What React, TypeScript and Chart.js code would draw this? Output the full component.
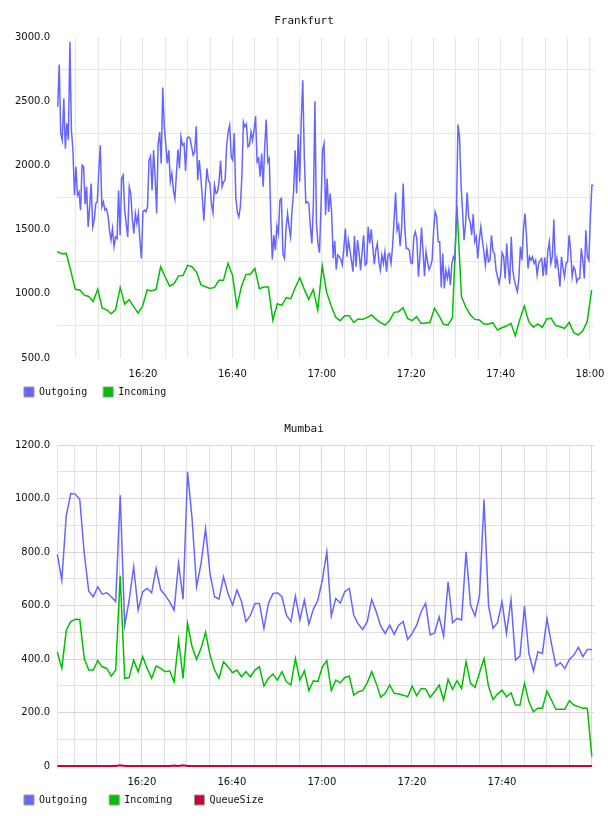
import React, { useEffect, useRef } from 'react';
import { Chart, registerables } from 'chart.js';

Chart.register(...registerables);

const MONO = "'DejaVu Sans Mono', monospace";
const SANS = "'DejaVu Sans', sans-serif";

const COLOR_OUT = '#6666ff';
const COLOR_IN = '#00c000';
const COLOR_QUEUE = '#cc0033';

// ---------------- Frankfurt ----------------
// sample times are minutes since midnight
const FRA_X_MIN = 960.76;
const FRA_X_MAX = 1080.9;
const FRA_TIME_LABELS = ['16:20', '16:40', '17:00', '17:20', '17:40', '18:00'];
const FRA_Y_LABELS = ['500.0', '1000.0', '1500.0', '2000.0', '2500.0', '3000.0'];

const FRA_OUT_START = 960.92;
const FRA_OUT_STEP = 0.3405;
const FRA_OUTGOING = [
  2457, 2787, 2249, 2197, 2522, 2132, 2330, 2197, 2963, 2275,
  2119, 1769, 1990, 1769, 1795, 1652, 2003, 1990, 1699, 1834,
  1522, 1678, 1860, 1522, 1574, 1704, 1717, 1964, 2158, 1678,
  1717, 1652, 1665, 1613, 1496, 1418, 1509, 1367, 1444, 1431,
  1808, 1457, 1899, 1925, 1652, 1548, 1444, 1834, 1782, 1587,
  1470, 1626, 1548, 1626, 1418, 1276, 1639, 1652, 1639, 1678,
  2042, 2073, 1808, 2119, 1912, 1626, 2171, 2262, 2016, 2608,
  2301, 2171, 2016, 2119, 1873, 1938, 1808, 1743, 1938, 2125,
  1977, 2223, 2158, 2171, 1958, 2210,
  2223, 2210, 2145, 2080, 2106, 2306, 1886, 2042, 1912, 1756,
  1569, 1782, 1977, 1886, 1860, 1704, 1631, 1847, 1782, 1795,
  1873, 2036, 1834, 1873, 1886, 2158, 2262, 2314, 2068, 2042,
  2254, 1756, 1639, 1600, 1678, 1912, 2340, 2301, 2322, 2145,
  2158, 2262, 2197, 2275, 2384, 2029, 2055, 1912, 2093, 1834,
  2145, 2358, 2029, 2055, 1587, 1268, 1457, 1341, 1528, 1470,
  1730, 1743, 1310, 1276, 1502, 1626, 1522, 1444, 1658, 1795,
  2119, 1782, 2244, 1873, 2353, 2665, 2080, 1709, 1717, 1704,
  1522, 1393, 1704, 2501, 1548, 1393, 1320, 1678, 2119, 2171,
  1613, 1899, 1639, 1782, 1626, 1276, 1413, 1190, 1302, 1289,
  1268, 1224, 1354, 1509, 1289, 1418, 1341, 1258, 1172, 1450,
  1211, 1418, 1320, 1185, 1328, 1457, 1224, 1237, 1522, 1393,
  1502, 1367, 1229, 1341, 1393, 1250, 1185, 1302, 1237, 1328,
  1172, 1302, 1315, 1237, 1367, 1574, 1790, 1496, 1535, 1372,
  1522, 1860, 1522, 1354, 1354, 1341, 1242, 1237, 1444, 1483,
  1424, 1133, 1289, 1517, 1341, 1138, 1328, 1250, 1190, 1216,
  1263, 1496, 1639, 1600, 1406, 1406, 1050, 1315, 1042, 1185,
  1120, 1190, 1068, 1237, 1289, 1268, 1639, 2319, 2223,
  1860, 1639, 1418, 1548, 1790, 1600, 1561, 1457, 1621, 1406,
  1444, 1276, 1418, 1522, 1418, 1328, 1224, 1354, 1250, 1263,
  1457, 1328, 1315, 1185, 1133, 1081, 1146, 1320, 1289, 1120,
  1393, 1211, 1076, 1444, 1185, 1107, 1060, 1016, 1120, 1367,
  1263, 1496, 1626, 1457, 1198, 1289, 1263, 1289, 1237, 1263,
  1146, 1237, 1263, 1276, 1138, 1284, 1146, 1328, 1406, 1237,
  1289, 1580, 1198, 1276, 1185, 1055, 1289, 1198, 1133, 1237,
  1250, 1457, 1341, 1133, 1211, 1185, 1094, 1120, 1120, 1354,
  1263, 1120, 1496, 1289, 1263, 1600, 1847, 1847,
];

const FRA_IN_START = 960.83;
const FRA_IN_STEP = 1.0046;
const FRA_INCOMING = [
  1328, 1312, 1315, 1180, 1035, 1030, 990, 980, 940, 1037,
  890, 875, 845, 878, 1050, 920, 955, 900, 850, 905,
  1030, 1022, 1035, 1211, 1133, 1060, 1080, 1140, 1142, 1222,
  1211, 1170, 1070, 1055, 1042, 1050, 1105, 1105, 1237, 1146,
  900, 1056, 1150, 1154, 1198, 1040, 1053, 1053, 795, 923,
  910, 970, 962, 1050, 1125, 1035, 957, 1035, 874, 1216,
  1009, 905, 817, 791, 830, 830, 778, 804, 801, 817,
  835, 801, 775, 757, 791, 856, 861, 892, 809, 791,
  822, 770, 770, 778, 887, 830, 762, 757, 814, 1684,
  978, 895, 835, 801, 796, 765, 765, 775, 718, 736,
  749, 770, 674, 801, 905, 783, 739, 765, 739, 804,
  809, 752, 744, 731, 778, 697, 679, 710, 783, 1030,
];

// ---------------- Mumbai ----------------
const MUM_X_MIN = 961.15;
const MUM_X_MAX = 1080.45;
const MUM_TIME_LABELS = ['16:20', '16:40', '17:00', '17:20', '17:40'];
const MUM_Y_LABELS = ['0', '200.0', '400.0', '600.0', '800.0', '1000.0', '1200.0'];

const MUM_START = 961.22;
const MUM_STEP = 0.9979;
const MUM_OUTGOING = [
  792, 695, 938, 1019, 1017, 997, 795, 654, 633, 670,
  643, 648, 633, 615, 1013, 527, 620, 745, 583, 652,
  664, 648, 739, 660, 639, 614, 583, 758, 624, 1100,
  926, 670, 758, 888, 720, 633, 624, 708, 645, 602,
  658, 615, 540, 564, 608, 608, 515, 608, 645, 648,
  633, 564, 540, 635, 546, 620, 531, 586, 620, 695,
  801, 561, 627, 610, 652, 664, 564, 531, 511, 540,
  623, 577, 523, 496, 527, 493, 527, 540, 473, 496,
  527, 577, 608, 490, 498, 558, 486, 689, 536, 552,
  546, 801, 602, 561, 640, 997, 600, 515, 536, 614,
  496, 623, 396, 411, 598, 419, 356, 427, 421, 552,
  458, 374, 386, 365, 399, 415, 444, 409, 436, 436,
];
const MUM_INCOMING = [
  427, 365, 508, 540, 549, 548, 402, 359, 359, 394,
  371, 365, 336, 359, 712, 328, 331, 396, 353, 409,
  365, 328, 374, 365, 353, 356, 315, 471, 328, 533,
  446, 399, 440, 500, 415, 359, 328, 390, 371, 349,
  359, 334, 353, 334, 359, 371, 299, 328, 344, 321,
  353, 315, 303, 402, 321, 356, 282, 319, 316, 371,
  394, 282, 321, 311, 331, 336, 265, 278, 282, 311,
  353, 309, 257, 272, 303, 272, 269, 265, 259, 299,
  263, 290, 288, 257, 278, 303, 247, 324, 287, 319,
  290, 390, 309, 294, 349, 402, 297, 249, 269, 284,
  259, 274, 228, 228, 309, 240, 203, 216, 216, 280,
  247, 212, 212, 212, 244, 228, 222, 216, 216, 35,
];
const MUM_QUEUE = [
  0, 0, 0, 0, 0, 0, 0, 0, 0, 0,
  0, 0, 0, 0, 3, 0, 0, 0, 0, 0,
  0, 0, 0, 0, 0, 0, 2, 0, 3, 0,
  0, 0, 0, 0, 0, 0, 0, 0, 0, 0,
  0, 0, 0, 0, 0, 0, 0, 0, 0, 0,
  0, 0, 0, 0, 0, 0, 0, 0, 0, 0,
  0, 0, 0, 0, 0, 0, 0, 0, 0, 0,
  0, 0, 0, 0, 0, 0, 0, 0, 0, 0,
  0, 0, 0, 0, 0, 0, 0, 0, 0, 0,
  0, 0, 0, 0, 0, 0, 0, 0, 0, 0,
  0, 0, 0, 0, 0, 0, 0, 0, 0, 0,
  0, 0, 0, 0, 0, 0, 0, 0, 0, 0,
];

type Series = { label: string; color: string; start: number; step: number; values: number[]; width: number };
type Spec = {
  title: string;
  series: Series[];
  xMin: number;
  xMax: number;
  timeLabels: string[];
  yLabels: string[];
  xMajorGrid: string;
  xMinorGrid: string;
  yMajorGrid: string;
  yMinorGrid: string;
  border: boolean;
  borderColor: string;
};

const toMin = (s: string) => {
  const [h, m] = s.split(':').map(Number);
  return h * 60 + m;
};

function buildConfig(spec: Spec): any {
  const labelMinutes = spec.timeLabels.map(toMin);
  const xTicks: number[] = [];
  for (let t = Math.ceil(spec.xMin / 5) * 5; t <= spec.xMax; t += 5) xTicks.push(t);
  const yMajor = spec.yLabels.map((l) => parseFloat(l));
  const yStep = yMajor[1] - yMajor[0];
  const yTicks: number[] = [];
  for (let v = yMajor[0]; v <= yMajor[yMajor.length - 1]; v += yStep / 2) yTicks.push(v);
  const maxLen = Math.max(...spec.series.map((s) => s.label.length));

  return {
    type: 'line',
    data: {
      datasets: spec.series.map((s) => ({
        label: s.label,
        data: s.values.map((v, i) => ({ x: s.start + i * s.step, y: v })),
        borderColor: s.color,
        backgroundColor: s.color,
        borderWidth: s.width,
        pointRadius: 0,
        pointHoverRadius: 0,
        tension: 0,
        fill: false,
        clip: 3,
      })),
    },
    options: {
      animation: false,
      responsive: false,
      devicePixelRatio: 1,
      events: [],
      layout: { padding: { left: 14, right: 14, top: 0, bottom: 1 } },
      plugins: {
        title: {
          display: true,
          text: spec.title,
          color: '#111',
          font: { family: MONO, size: 11, weight: 'normal' },
          padding: { top: 15, bottom: 9 },
        },
        legend: {
          position: 'bottom',
          align: 'start',
          labels: {
            boxWidth: 10,
            boxHeight: 10,
            padding: 10,
            color: '#111',
            font: { family: MONO, size: 10 },
            generateLabels: () =>
              spec.series.map((s, i) => ({
                text: s.label.padEnd(maxLen + 1, ' '),
                fillStyle: s.color,
                strokeStyle: '#999999',
                lineWidth: 1,
                hidden: false,
                datasetIndex: i,
                fontColor: '#111',
              })),
          },
        },
        tooltip: { enabled: false },
      },
      scales: {
        x: {
          type: 'linear',
          min: spec.xMin,
          max: spec.xMax,
          afterBuildTicks: (sc: any) => {
            sc.ticks = xTicks.map((v) => ({ value: v }));
          },
          afterFit: (sc: any) => {
            sc.height = 19;
          },
          grid: {
            drawTicks: false,
            lineWidth: 1,
            color: (c: any) => (c.tick && c.tick.value % 20 === 0 ? spec.xMajorGrid : spec.xMinorGrid),
          },
          border: { display: spec.border, color: spec.borderColor, width: 1 },
          ticks: {
            autoSkip: false,
            maxRotation: 0,
            minRotation: 0,
            padding: 0,
            color: '#111',
            font: { family: SANS, size: 10, lineHeight: '32px' },
            callback: (v: any) => {
              const i = labelMinutes.indexOf(Number(v));
              return i >= 0 ? spec.timeLabels[i] : '';
            },
          },
        },
        y: {
          type: 'linear',
          min: yMajor[0],
          max: yMajor[yMajor.length - 1],
          afterBuildTicks: (sc: any) => {
            sc.ticks = yTicks.map((v) => ({ value: v }));
          },
          afterFit: (sc: any) => {
            sc.width = 43;
          },
          grid: {
            drawTicks: false,
            lineWidth: 1,
            color: (c: any) => (c.tick && yMajor.includes(c.tick.value) ? spec.yMajorGrid : spec.yMinorGrid),
          },
          border: { display: spec.border, color: spec.borderColor, width: 1 },
          ticks: {
            autoSkip: false,
            padding: 7,
            color: '#111',
            font: { family: SANS, size: 10 },
            callback: (v: any) => {
              const i = yMajor.indexOf(Number(v));
              return i >= 0 ? spec.yLabels[i] : '';
            },
          },
        },
      },
    },
  };
}

const FRA_SPEC: Spec = {
  title: 'Frankfurt',
  series: [
    { label: 'Outgoing', color: COLOR_OUT, start: FRA_OUT_START, step: FRA_OUT_STEP, values: FRA_OUTGOING, width: 1.5 },
    { label: 'Incoming', color: COLOR_IN, start: FRA_IN_START, step: FRA_IN_STEP, values: FRA_INCOMING, width: 1.5 },
  ],
  xMin: FRA_X_MIN,
  xMax: FRA_X_MAX,
  timeLabels: FRA_TIME_LABELS,
  yLabels: FRA_Y_LABELS,
  xMajorGrid: '#e6e6e6',
  xMinorGrid: '#e6e6e6',
  yMajorGrid: 'rgba(0,0,0,0)',
  yMinorGrid: '#e6e6e6',
  border: false,
  borderColor: 'rgba(0,0,0,0)',
};

const MUM_SPEC: Spec = {
  title: 'Mumbai',
  series: [
    { label: 'Outgoing', color: COLOR_OUT, start: MUM_START, step: MUM_STEP, values: MUM_OUTGOING, width: 1.5 },
    { label: 'Incoming', color: COLOR_IN, start: MUM_START, step: MUM_STEP, values: MUM_INCOMING, width: 1.5 },
    { label: 'QueueSize', color: COLOR_QUEUE, start: MUM_START, step: MUM_STEP, values: MUM_QUEUE, width: 2 },
  ],
  xMin: MUM_X_MIN,
  xMax: MUM_X_MAX,
  timeLabels: MUM_TIME_LABELS,
  yLabels: MUM_Y_LABELS,
  xMajorGrid: '#e3cfe3',
  xMinorGrid: '#e0e0e0',
  yMajorGrid: '#e3cfe3',
  yMinorGrid: '#e0e0e0',
  border: true,
  borderColor: '#efdfef',
};

function Panel({ spec, top }: { spec: Spec; top: number }) {
  const ref = useRef<HTMLCanvasElement>(null);
  useEffect(() => {
    if (!ref.current) return;
    const chart = new Chart(ref.current, buildConfig(spec));
    return () => chart.destroy();
  }, [spec]);
  return (
    <canvas
      ref={ref}
      width={608}
      height={408}
      style={{ position: 'absolute', left: 0, top, width: 608, height: 408, display: 'block' }}
    />
  );
}

export default function App() {
  return (
    <div style={{ position: 'absolute', left: 0, top: 0, width: 608, height: 816, background: '#fff' }}>
      <Panel spec={FRA_SPEC} top={0} />
      <Panel spec={MUM_SPEC} top={408} />
    </div>
  );
}
